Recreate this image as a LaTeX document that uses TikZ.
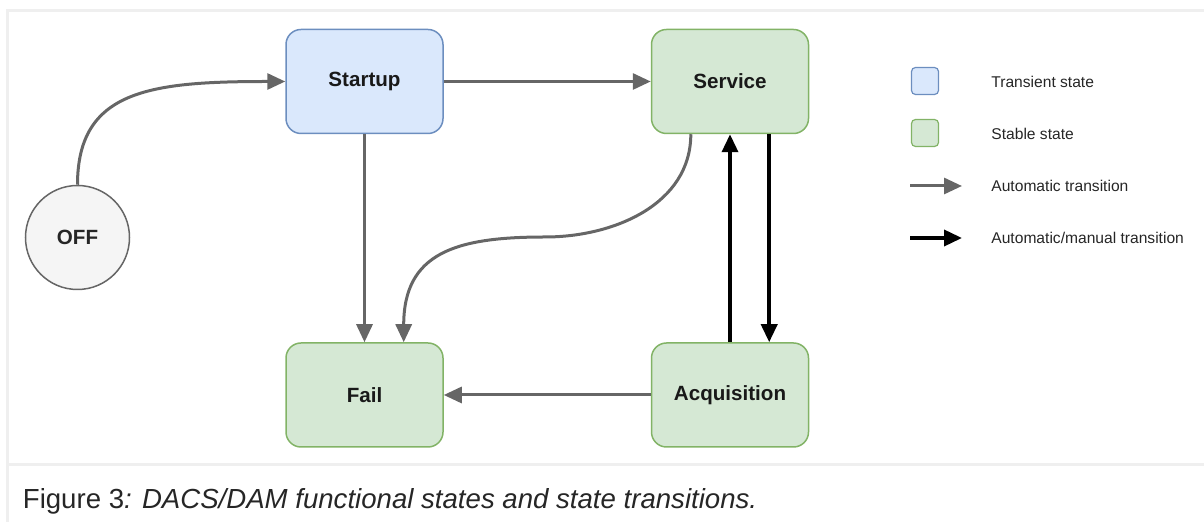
\documentclass[tikz,border=0pt]{standalone}
\usepackage{fontspec}
\setmainfont{Liberation Sans}
\usetikzlibrary{arrows.meta}

\definecolor{bluefill}{HTML}{DAE8FC}
\definecolor{blueline}{HTML}{6C8EBF}
\definecolor{greenfill}{HTML}{D5E8D4}
\definecolor{greenline}{HTML}{82B366}
\definecolor{offfill}{HTML}{F5F5F5}
\definecolor{arrowgray}{HTML}{666666}
\definecolor{framegray}{HTML}{EFEFEF}

\tikzset{
  state/.style={draw, line width=0.75pt, rounded corners=7.5pt, minimum width=78.5pt,
    minimum height=52pt, font=\fontsize{10.3}{12}\selectfont\bfseries, text=black!90},
  transient/.style={state, fill=bluefill, draw=blueline},
  stable/.style={state, fill=greenfill, draw=greenline},
  autoarrow/.style={->, line width=1.5pt, draw=arrowgray},
  manualarrow/.style={->, line width=1.8pt, draw=black},
  legendtext/.style={anchor=west, inner sep=0pt, font=\fontsize{7.8}{9}\selectfont, text=black!85},
  legendbox/.style={rounded corners=2pt, minimum size=13.5pt, inner sep=0pt, line width=0.6pt},
}

\begin{document}
\begin{tikzpicture}[x=0.5pt, y=-0.5pt, >={Triangle[length=9pt,width=8pt]}]
                \useasboundingbox (0,0) rectangle (1204,522);
                % frame of the figure
                \draw[framegray, line width=1.5pt] (7,522) -- (7,11) -- (1204,11);
                \draw[framegray, line width=1.5pt] (7,465) -- (1204,465);
                % states
                \node[transient] (startup) at (364.5,81.5) {Startup};
                \node[stable] (service) at (730,81.5) {Service};
                \node[stable] (fail) at (364.5,395) {Fail};
                \node[stable] (acq) at (730,395) {Acquisition};
                \node[circle, draw=arrowgray, fill=offfill, line width=0.75pt, minimum size=52pt,
                      inner sep=0pt, font=\fontsize{10.3}{12}\selectfont\bfseries, text=black!85] (off) at (77.5,237.5) {OFF};
                % transitions
                \draw[autoarrow] (off.north) .. controls (77.5,90) and (150,81.5) .. (startup.west);
                \draw[autoarrow] (startup) -- (service);
                \draw[autoarrow] (startup) -- (fail);
                \coordinate (bend) at (545,237);
                \draw[autoarrow] ([xshift=-19.6pt]service.south) to[out=-90,in=0] (bend)
                      to[out=180,in=90,looseness=1.3] ([xshift=19.6pt]fail.north);
                \draw[autoarrow] (acq) -- (fail);
                \draw[manualarrow] (acq) -- (service);
                \draw[manualarrow] ([xshift=19.6pt]service.south) -- ([xshift=19.6pt]acq.north);
                % legend
                \node[legendbox, draw=blueline, fill=bluefill] (keytransient) at (925,81) {};
                \node[legendtext] (txttransient) at (991,82) {Transient state};
                \node[legendbox, draw=greenline, fill=greenfill] (keystable) at (925,133) {};
                \node[legendtext] (txtstable) at (991,134) {Stable state};
                \coordinate (autofrom) at (910,186);
                \coordinate (autoto) at (962,186);
                \draw[autoarrow] (autofrom) -- (autoto);
                \node[legendtext] (txtauto) at (991,186) {Automatic transition};
                \coordinate (manualfrom) at (910,238);
                \coordinate (manualto) at (962,238);
                \draw[manualarrow] (manualfrom) -- (manualto);
                \node[legendtext] (txtmanual) at (991,238) {Automatic/manual transition};
                % caption
                \node[anchor=base west, inner sep=0pt, font=\fontsize{13.8}{16}\selectfont, text=black!85] (caption)
                      at (22.5,509) {Figure 3\textit{: DACS/DAM functional states and state transitions.}};
        \end{tikzpicture}
\end{document}
